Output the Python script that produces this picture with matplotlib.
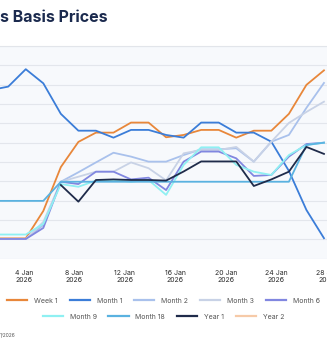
import numpy as np
import matplotlib.pyplot as plt
from matplotlib.lines import Line2D

plt.rcParams['font.family'] = ['Inter', 'DejaVu Sans']

nan = np.nan

# one value per trading point, index -1 .. 18 (first point sits just off the left edge)
points = np.arange(-1, 19)

week_1 = [1.05, 1.05, 1.05, 2.47, 4.74, 6.04, 6.52, 6.52, 7.04, 7.04,
          6.28, 6.40, 6.66, 6.66, 6.26, 6.62, 6.62, 7.49, 8.99, 9.74]
month_1 = [8.72, 8.90, 9.80, 9.07, 7.49, 6.62, 6.62, 6.26, 6.66, 6.66,
           6.40, 6.26, 7.04, 7.04, 6.52, 6.52, 6.05, 4.54, 2.52, 1.06]
month_2 = [1.02, 1.02, 1.02, 1.74, 3.98, 4.47, 4.98, 5.48, 5.28, 5.02,
           5.02, 5.36, 5.66, 5.66, 5.71, 5.02, 6.05, 6.40, 7.80, 9.09]
month_3 = [1.02, 1.02, 1.02, 1.90, 3.98, 4.24, 4.50, 4.50, 4.98, 4.68,
           4.05, 5.45, 5.62, 5.62, 5.78, 5.02, 6.05, 7.02, 7.59, 8.12]
month_6 = [1.02, 1.02, 1.02, 1.59, 3.98, 3.86, 4.50, 4.50, 4.10, 4.19,
           3.55, 5.02, 5.54, 5.54, 5.19, 4.28, 4.33, 5.28, 5.93, 6.00]
month_9 = [1.25, 1.25, 1.25, 1.80, 3.86, 3.72, 4.04, 4.07, 3.98, 4.07,
           3.30, 4.85, 5.76, 5.76, 4.85, 4.50, 4.33, 5.36, 5.88, 6.00]
month_18 = [2.99, 2.99, 2.99, 2.99, 3.98, 3.98, 3.98, 3.98, 3.98, 3.98,
            3.98, 3.98, 3.98, 3.98, 3.98, 3.98, 3.98, 3.98, 5.88, 6.00]
year_1 = [nan, nan, nan, nan, 3.81, 2.95, 4.07, 4.10, 4.07, 4.07,
          4.04, 4.51, 5.03, 5.03, 5.03, 3.76, 4.10, 4.50, 5.78, 5.42]
year_2 = [nan] * 20

series = [
    ('Week 1', week_1, '#e8873a'),
    ('Month 1', month_1, '#3b7dd8'),
    ('Month 2', month_2, '#a9c1ec'),
    ('Month 3', month_3, '#c8d2e6'),
    ('Month 6', month_6, '#8187e0'),
    ('Month 9', month_9, '#8ff0f2'),
    ('Month 18', month_18, '#5ab2e0'),
    ('Year 1', year_1, '#1f2b4a'),
    ('Year 2', year_2, '#f6caa8'),
]

tick_labels = ['4 Jan\n2026', '8 Jan\n2026', '12 Jan\n2026', '16 Jan\n2026',
               '20 Jan\n2026', '24 Jan\n2026', '28 Jan\n2026']
tick_pos = 0.887 + 2.881 * np.arange(len(tick_labels))

fig = plt.figure(figsize=(3.27, 3.44), dpi=100)
ax = fig.add_axes([0, 85.3 / 344, 1, 212.7 / 344])
ax.set_facecolor('#f7f9fc')

handles = []
for name, vals, col in series:
    h, = ax.plot(points, vals, color=col, lw=1.3, label=name)
    handles.append(h)

ax.set_xlim(-0.469, 18.006)
ax.set_ylim(0, 11)
ax.set_yticks(np.arange(0, 12))
ax.yaxis.grid(True, color='#e3e6ec', lw=0.8)
ax.set_axisbelow(True)
ax.tick_params(axis='y', length=0, labelleft=False)
ax.set_xticks(tick_pos, tick_labels)
ax.tick_params(axis='x', length=0, pad=8, labelsize=5, colors='#2a2a2a')
for s in ax.spines.values():
    s.set_visible(False)

# title and separator
fig.text(0.0, 1 - 17.5 / 344, 's Basis Prices', fontsize=11.5, fontweight='bold',
         color='#1b2a4e', ha='left', va='center')
fig.add_artist(Line2D([0, 1], [1 - 46 / 344] * 2, color='#e2e5ea', lw=0.8))

leg_kw = dict(frameon=False, fontsize=5, handlelength=2.9, handletextpad=1.0,
              columnspacing=1.7, labelcolor='#555555')
leg1 = fig.legend(handles[:5], [s[0] for s in series[:5]], ncol=5,
                  loc='center', bbox_to_anchor=(0.5, 1 - 300.7 / 344), **leg_kw)
leg2 = fig.legend(handles[5:], [s[0] for s in series[5:]], ncol=4,
                  loc='center', bbox_to_anchor=(0.5, 1 - 316.7 / 344), **leg_kw)
for leg in (leg1, leg2):
    for ln in leg.get_lines():
        ln.set_linewidth(1.6)

fig.text(0.0, 1 - 335 / 344, '1/2026', fontsize=3.5, color='#555555',
         ha='left', va='center')

fig.savefig('out.png', dpi=100)
